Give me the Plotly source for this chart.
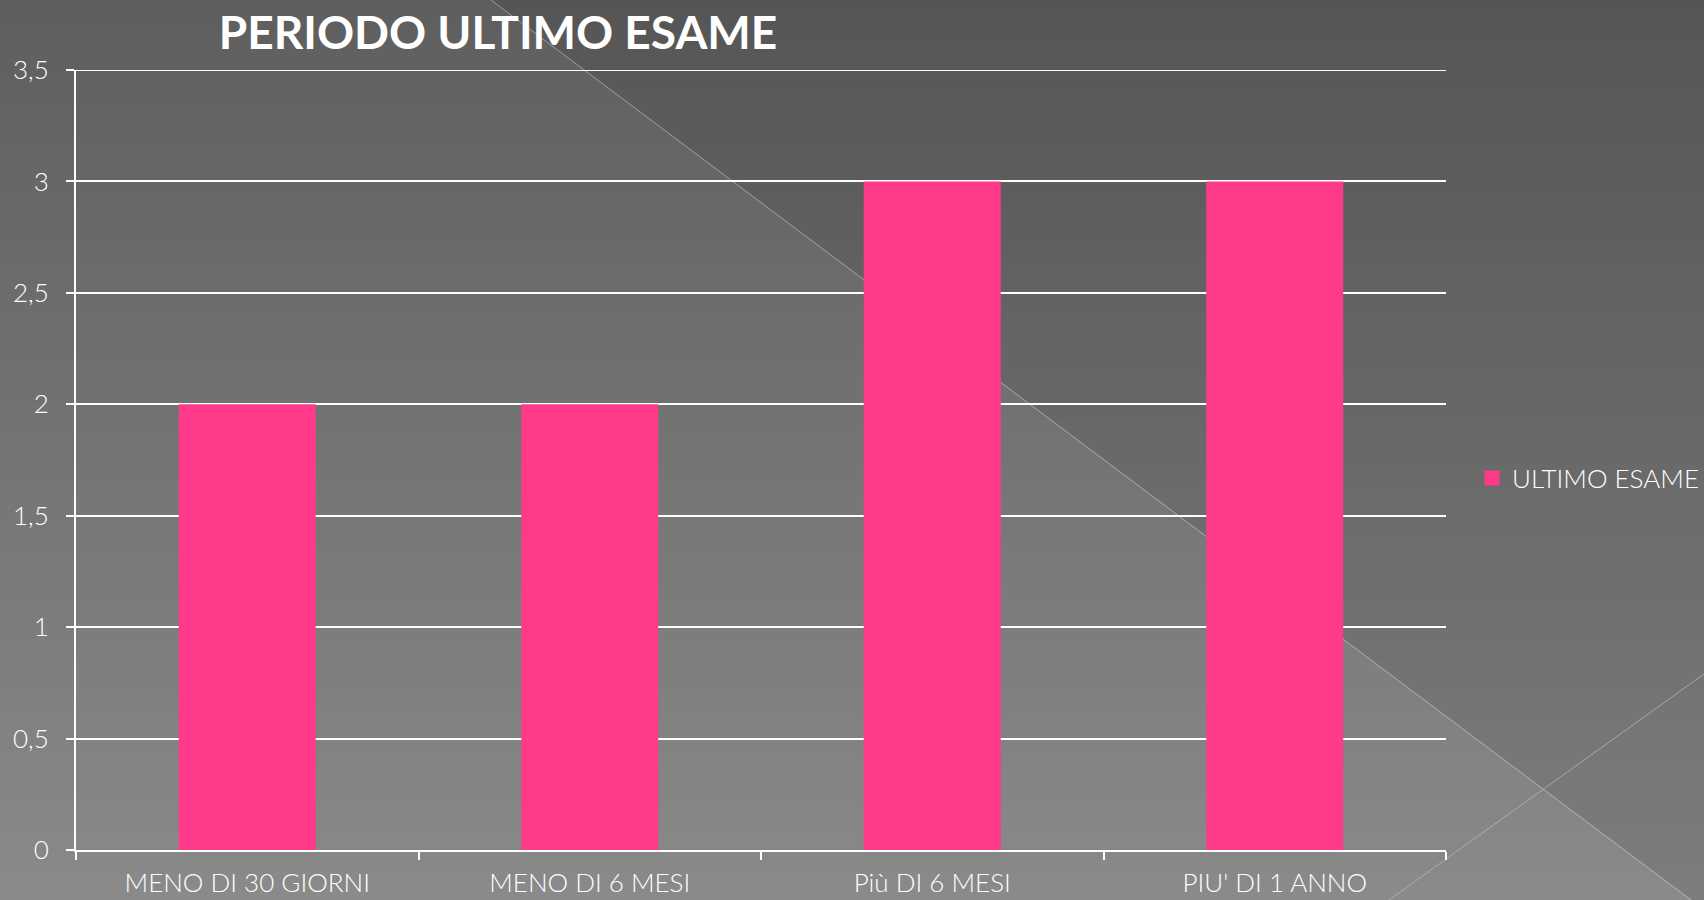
import plotly.graph_objects as go

# chart data
categories = ["MENO DI 30 GIORNI", "MENO DI 6 MESI", "Più DI 6 MESI", "PIU' DI 1 ANNO"]
values = [2, 2, 3, 3]
series_name = "ULTIMO ESAME"
title = "PERIODO ULTIMO ESAME"
y_ticks = [0, 0.5, 1, 1.5, 2, 2.5, 3, 3.5]
y_max = 3.5

bar_color = "#ff3a8b"

# page / plot area in pixels
W, H = 1704, 900
L, R, T, B = 76, 258, 70, 50
PW, PH = W - L - R, H - T - B


def px_x(px):
    return (px - L) / PW


def px_y(py):
    return (H - B - py) / PH


# background: vertical grey gradient made of thin bands
shapes = []
n_bands = 60
top_grey, bottom_grey = 0x5E, 0x8A
for i in range(n_bands):
    y0 = i * H / n_bands
    y1 = (i + 1) * H / n_bands + 1
    g = round(top_grey + (bottom_grey - top_grey) * (i + 0.5) / n_bands)
    shapes.append(dict(
        type="rect", xref="paper", yref="paper", layer="below",
        x0=px_x(-2), x1=px_x(W + 2), y0=px_y(y1), y1=px_y(y0),
        fillcolor=f"rgb({g},{g},{g})", line_width=0,
    ))

# darker area to the right of the big diagonal
shapes.append(dict(
    type="path", xref="paper", yref="paper", layer="below",
    path=(f"M {px_x(491)},{px_y(0)} L {px_x(W + 2)},{px_y(0)} "
          f"L {px_x(W + 2)},{px_y(910)} Z"),
    fillcolor="rgba(0,0,0,0.09)", line_width=0,
))
# thin decorative lines
for (xa, ya, xb, yb) in [(491, 0, 1704, 910), (1704, 674, 1389, 900)]:
    shapes.append(dict(
        type="line", xref="paper", yref="paper", layer="below",
        x0=px_x(xa), y0=px_y(ya), x1=px_x(xb), y1=px_y(yb),
        line=dict(color="rgba(200,200,200,0.6)", width=1),
    ))

# top gridline (plotly drops the one sitting on the plot edge)
shapes.append(dict(
    type="line", xref="paper", yref="y", layer="below",
    x0=0, x1=1, y0=y_max, y1=y_max,
    line=dict(color="white", width=2),
))

font_family = "Lato, 'Open Sans', sans-serif"

fig = go.Figure()
fig.add_trace(go.Bar(
    x=categories,
    y=values,
    name=series_name,
    marker=dict(color=bar_color, line_width=0),
    showlegend=False,
))
# legend entry with a bigger square swatch
fig.add_trace(go.Scatter(
    x=[None], y=[None],
    mode="markers",
    name=series_name,
    marker=dict(symbol="square", size=15, color=bar_color),
    hoverinfo="skip",
))

fig.update_layout(
    width=W, height=H,
    margin=dict(l=L, r=R, t=T, b=B, autoexpand=False),
    paper_bgcolor="#707070",
    plot_bgcolor="rgba(0,0,0,0)",
    separators=",.",
    bargap=0.6,
    shapes=shapes,
    font=dict(family=font_family, color="white", size=26, weight=300),
    title=dict(
        text=title,
        x=px_x(498), xref="paper", xanchor="center",
        y=1 - 33 / H, yanchor="middle",
        font=dict(family=font_family, size=46, color="white", weight=700),
    ),
    legend=dict(
        x=px_x(1472), y=px_y(478), xanchor="left", yanchor="middle",
        bgcolor="rgba(0,0,0,0)",
        font=dict(family=font_family, size=26, color="white", weight=300),
    ),
)

fig.update_yaxes(
    range=[0, y_max],
    tickvals=y_ticks,
    showgrid=True, gridcolor="white", gridwidth=2,
    showline=True, linecolor="white", linewidth=2,
    ticks="outside", ticklen=8, tickcolor="white", tickwidth=2,
    ticklabelstandoff=12,
    zeroline=False,
    automargin=False,
)
fig.update_xaxes(
    showgrid=False,
    showline=True, linecolor="white", linewidth=2,
    ticks="outside", tickson="boundaries", ticklen=8,
    tickcolor="white", tickwidth=2,
    ticklabelstandoff=9,
    tickfont_size=26,
    automargin=False,
)

fig.write_html(
    "out.html",
    config={"displayModeBar": False},
    post_script="document.body.style.margin='0';document.body.style.overflow='hidden';",
)
